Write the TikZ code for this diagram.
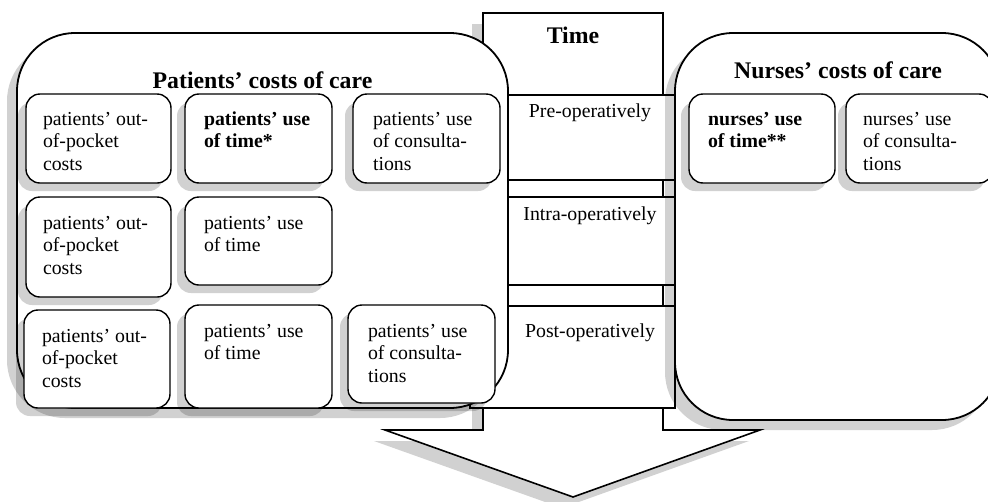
\documentclass[tikz,border=0pt]{standalone}
\usepackage{fontspec}
\setmainfont{Liberation Serif}
\usetikzlibrary{shadows,fit}
\newcommand\bodyfont{\fontsize{19.8}{22.5}\selectfont}
\newcommand\titlefont{\fontsize{23.8}{27}\selectfont\bfseries}
\newcommand\mlines[1]{\begin{tabular}[t]{@{}l@{}}#1\end{tabular}}
\newcommand\arrowpath{(483,13) -- (663,13) -- (663,430) -- (760,430) -- (573,497) -- (385,430) -- (483,430) -- cycle}
\begin{document}
\begin{tikzpicture}[x=1pt,y=-1pt,
  every node/.style={inner sep=0pt, outer sep=0pt},
  dshadow/.style={drop shadow={shadow xshift=-#1pt, shadow yshift=-#1pt, fill=black, opacity=0.18}},
  bigbox/.style={draw, line width=1.8pt, fill=white, rounded corners=58pt, dshadow=10},
  smallbox/.style={draw, line width=1.4pt, fill=white, rounded corners=14pt, dshadow=8},
  rowbox/.style={draw, line width=1.6pt, fill=white},
  arrowst/.style={draw, line width=1.6pt, fill=white, line join=miter},
  arrowshadow/.style={fill=black, opacity=0.18},
  body/.style={font=\bodyfont, anchor=base west},
  bodyb/.style={font=\bodyfont\bfseries, anchor=base west},
  rowtxt/.style={font=\bodyfont, anchor=base},
  title/.style={font=\titlefont, anchor=base}
]
\useasboundingbox (0,0) rectangle (988,501);
\clip (0,0) rectangle (988,501);
% big arrow (time axis)
\path[arrowshadow, shift={(-11,11)}] \arrowpath;
\path[arrowst] \arrowpath;
\node[title] (time) at (573,43.5) {Time};
% time rows
\node[rowbox, fit={(470,95) (675,180)}] (pre) {};
\node[rowbox, fit={(470,197) (675,285)}] (intra) {};
\node[rowbox, fit={(470,306) (675,408)}] (post) {};
\node[rowtxt] (pret) at (590,117) {Pre-operatively};
\node[rowtxt] (intrat) at (590,220) {Intra-operatively};
\node[rowtxt] (postt) at (590,337) {Post-operatively};
% patients
\node[bigbox, fit={(17,33) (508,408)}] (pat) {};
\node[title] (patt) at (262.5,88) {Patients’ costs of care};
\node[smallbox, fit={(26,94) (171,183)}] (b11) {};
\node[smallbox, fit={(185,94) (332,183)}] (b12) {};
\node[smallbox, fit={(353,94) (500,183)}] (b13) {};
\node[smallbox, fit={(26,197) (171,297)}] (b21) {};
\node[smallbox, fit={(185,197) (332,285)}] (b22) {};
\node[smallbox, fit={(24,310) (170,408)}] (b31) {};
\node[smallbox, fit={(185,305) (332,408)}] (b32) {};
\node[smallbox, fit={(348,305) (495,403)}] (b33) {};
\node[body] (t11) at (43,125) {\mlines{patients’ out-\\of-pocket\\costs}};
\node[bodyb] (t12) at (204,125) {\mlines{patients’ use\\of time*}};
\node[body] (t13) at (373,125) {\mlines{patients’ use\\of consulta-\\tions}};
\node[body] (t21) at (43,229) {\mlines{patients’ out-\\of-pocket\\costs}};
\node[body] (t22) at (204,229) {\mlines{patients’ use\\of time}};
\node[body] (t31) at (42,342) {\mlines{patients’ out-\\of-pocket\\costs}};
\node[body] (t32) at (204,337) {\mlines{patients’ use\\of time}};
\node[body] (t33) at (368,337) {\mlines{patients’ use\\of consulta-\\tions}};
% nurses
\node[bigbox, fit={(675,33) (1000,420)}] (nur) {};
\node[title] (nurt) at (838,78) {Nurses’ costs of care};
\node[smallbox, fit={(689,94) (835,183)}] (n1) {};
\node[smallbox, fit={(846,94) (993,183)}] (n2) {};
\node[bodyb] (tn1) at (708,125) {\mlines{nurses’ use\\of time**}};
\node[body] (tn2) at (863,125) {\mlines{nurses’ use\\of consulta-\\tions}};
\end{tikzpicture}
\end{document}
